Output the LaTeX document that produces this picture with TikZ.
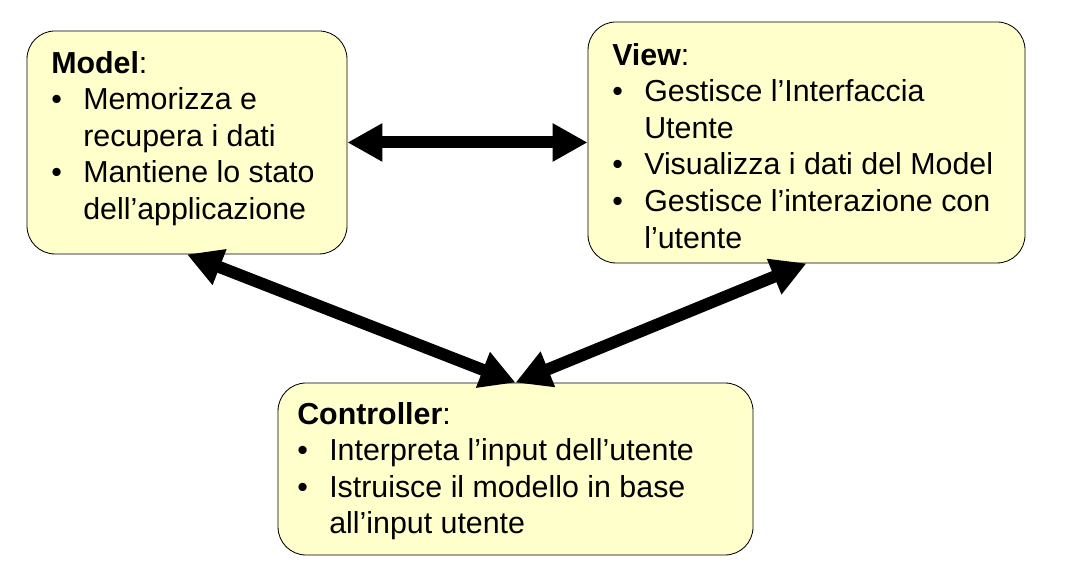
\documentclass[tikz,border=0pt]{standalone}
\usepackage{fontspec}
\setmainfont{Liberation Sans}
\usetikzlibrary{arrows.meta}
\definecolor{boxfill}{HTML}{FFFFCC}
\newcommand{\itm}{\makebox[0.8cm][l]{\textbullet}}
\newcommand{\cnt}{\hspace*{0.8cm}}

\tikzset{box/.style={draw=black,fill=boxfill,rounded corners=0.7cm,line width=0.6pt,inner sep=0cm},
box text/.style={font=\fontsize{21.6}{26}\selectfont,anchor=north west,align=left,inner sep=0cm},
link/.style={line width=0.3cm,arrows={Triangle[length=0.875cm,width=0.9cm]-Triangle[length=0.875cm,width=0.9cm]}}}

\begin{document}
\begin{tikzpicture}
\useasboundingbox (0,0) rectangle (26.725,14.2);

%% Coordinates of boxes.
\coordinate (m) at (4.675,10.638);
\coordinate (v) at (20.163,10.638);
\coordinate (c) at (12.888,2.475);
\coordinate (mt) at (1.275,12.925);
\coordinate (vt) at (15.300,13.125);
\coordinate (ct) at (7.425,4.150);

%% boxes
\node [box,minimum width=8.000cm,minimum height=5.575cm] (model) at (m) {};
\node [box,minimum width=10.925cm,minimum height=6.025cm] (view) at (v) {};
\node [box,minimum width=11.875cm,minimum height=4.300cm] (controller) at (c) {};

%% box texts
\node [box text] (modeltext) at (mt) {\textbf{Model}:\\
\itm Memorizza e\\
\cnt recupera i dati\\
\itm Mantiene lo stato\\
\cnt dell’applicazione};
\node [box text] (viewtext) at (vt) {\textbf{View}:\\
\itm Gestisce l’Interfaccia\\
\cnt Utente\\
\itm Visualizza i dati del Model\\
\itm Gestisce l’interazione con\\
\cnt l’utente};
\node [box text] (controllertext) at (ct) {\textbf{Controller}:\\
\itm Interpreta l’input dell’utente\\
\itm Istruisce il modello in base\\
\cnt all’input utente};

%% links
\draw [link] (model.east) -- (view.west);
\draw [link] (model.south) -- (controller.north);
\draw [link] (view.south) -- (controller.north);

\end{tikzpicture}
\end{document}
